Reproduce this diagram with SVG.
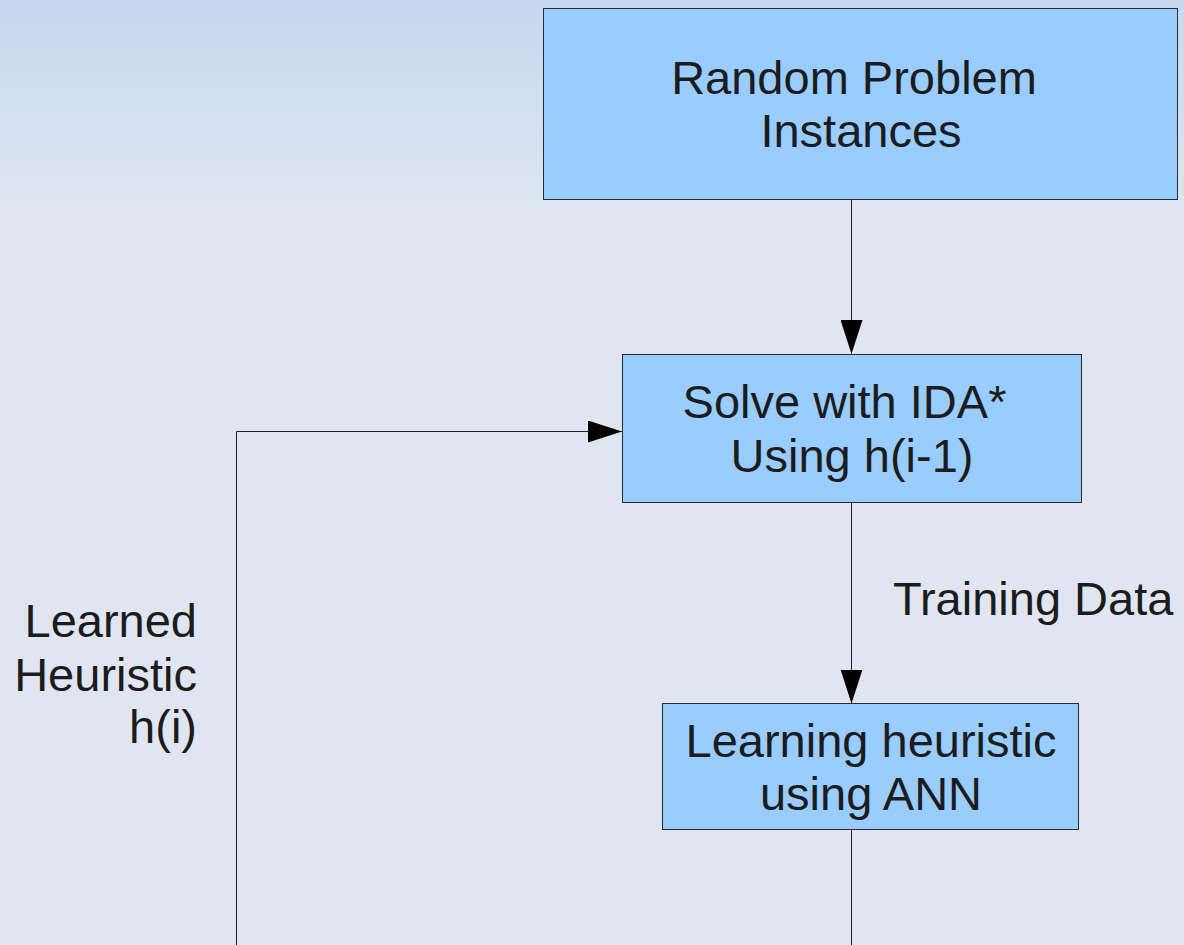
<svg xmlns="http://www.w3.org/2000/svg" width="1184" height="945" viewBox="0 0 1184 945">
  <defs>
    <linearGradient id="bg" x1="0" y1="0" x2="0" y2="945" gradientUnits="userSpaceOnUse">
      <stop offset="0" stop-color="#c5d8f0"/>
      <stop offset="0.23" stop-color="#dfe6f1"/>
      <stop offset="1" stop-color="#dfe6f1"/>
    </linearGradient>
    <marker id="arrow" markerUnits="userSpaceOnUse" markerWidth="34" markerHeight="22" refX="34" refY="11" orient="auto">
      <path d="M0,0 L34,11 L0,22 z" fill="#000"/>
    </marker>
    <style>
      .box { fill: #99ccff; stroke: #2b2b2b; stroke-width: 1; }
      .lbl { font-family: "Liberation Sans", Arial, sans-serif; font-size: 47px; fill: #1c1c1c; }
      .mid { text-anchor: middle; }
      .end { text-anchor: end; }
      .conn { fill: none; stroke: #222; stroke-width: 1; }
    </style>
  </defs>

  <rect x="0" y="0" width="1184" height="945" fill="url(#bg)"/>

  <!-- connectors -->
  <g id="connectors">
    <path class="conn" d="M851.5,200 L851.5,354" marker-end="url(#arrow)"/>
    <path class="conn" d="M851.5,503 L851.5,703.5" marker-end="url(#arrow)"/>
    <path class="conn" d="M851.5,830 L851.5,945"/>
    <path class="conn" d="M236.5,945 L236.5,431.5 L622,431.5" marker-end="url(#arrow)"/>
    <text class="lbl" x="893" y="615">Training Data</text>
    <text class="lbl end" x="197" y="637">Learned</text>
    <text class="lbl end" x="197" y="691">Heuristic</text>
    <text class="lbl end" x="197" y="743">h(i)</text>
  </g>

  <g id="random-instances">
    <rect class="box" x="543.5" y="8.5" width="634" height="191"/>
    <text class="lbl mid" x="854" y="94">Random Problem</text>
    <text class="lbl mid" x="861" y="147">Instances</text>
  </g>

  <g id="solve-ida">
    <rect class="box" x="622.5" y="354.5" width="459" height="148"/>
    <text class="lbl mid" x="844.5" y="418">Solve with IDA*</text>
    <text class="lbl mid" x="852" y="472">Using h(i-1)</text>
  </g>

  <g id="learn-ann">
    <rect class="box" x="662.5" y="703.5" width="416" height="126"/>
    <text class="lbl mid" x="871" y="757">Learning heuristic</text>
    <text class="lbl mid" x="871" y="810">using ANN</text>
  </g>
</svg>
